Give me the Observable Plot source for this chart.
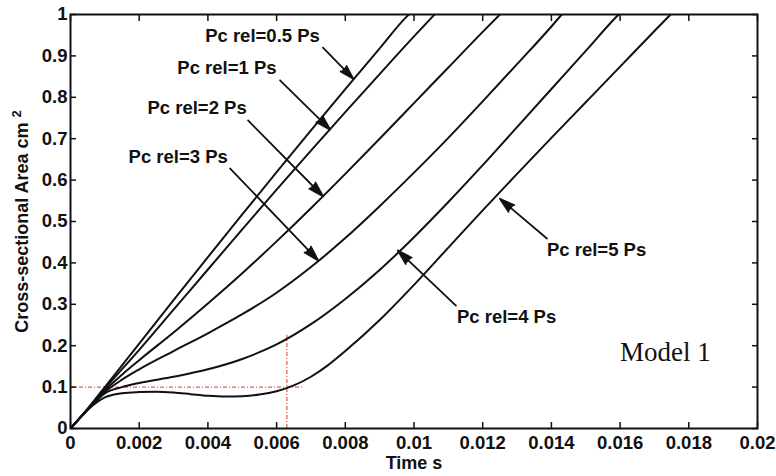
<!DOCTYPE html>
<html><head><meta charset="utf-8">
<script src="https://cdn.jsdelivr.net/npm/d3@7"></script>
<script src="https://cdn.jsdelivr.net/npm/@observablehq/plot@0.6"></script>
<style>html,body{margin:0;padding:0;background:#fff;}</style>
</head><body><div id="chart"></div>
<script>
// ---- data (time s, cross-sectional area cm^2) ----
const seriesNames = ["Pc rel=0.5 Ps", "Pc rel=1 Ps", "Pc rel=2 Ps", "Pc rel=3 Ps", "Pc rel=4 Ps", "Pc rel=5 Ps"];
const curve05 = [[0,0],[0.0005,0.048],[0.001,0.1],[0.002,0.205],[0.003,0.31],[0.004,0.414],[0.005,0.517],[0.006,0.619],[0.007,0.72],[0.008,0.82],[0.009,0.918],[0.0098,0.996],[0.00985,1.0]];
const curve1 = [[0,0],[0.0005,0.047],[0.001,0.096],[0.002,0.19],[0.003,0.287],[0.004,0.384],[0.005,0.481],[0.006,0.577],[0.007,0.671],[0.008,0.764],[0.009,0.856],[0.01,0.947],[0.0106,1.0]];
const curve2 = [[0,0],[0.0005,0.046],[0.001,0.092],[0.0015,0.13],[0.002,0.165],[0.003,0.232],[0.004,0.302],[0.005,0.375],[0.006,0.452],[0.007,0.532],[0.008,0.615],[0.009,0.7],[0.01,0.786],[0.011,0.872],[0.012,0.958],[0.0125,1.0]];
const curve3 = [[0,0],[0.0005,0.046],[0.001,0.088],[0.0015,0.118],[0.002,0.143],[0.003,0.187],[0.004,0.23],[0.005,0.276],[0.006,0.328],[0.007,0.39],[0.008,0.46],[0.009,0.537],[0.01,0.618],[0.011,0.702],[0.012,0.79],[0.013,0.88],[0.014,0.971],[0.0143,1.0]];
const curve4 = [[0,0],[0.0005,0.045],[0.001,0.085],[0.0015,0.1],[0.002,0.11],[0.003,0.125],[0.004,0.143],[0.005,0.168],[0.006,0.203],[0.007,0.252],[0.008,0.313],[0.009,0.383],[0.01,0.462],[0.011,0.547],[0.012,0.636],[0.013,0.728],[0.014,0.82],[0.015,0.912],[0.0159,0.995],[0.01596,1.0]];
const curve5 = [[0,0],[0.0005,0.045],[0.001,0.075],[0.0015,0.085],[0.002,0.088],[0.0025,0.089],[0.003,0.087],[0.0035,0.083],[0.004,0.079],[0.0045,0.077],[0.005,0.078],[0.0055,0.082],[0.006,0.09],[0.0065,0.104],[0.007,0.125],[0.0075,0.153],[0.008,0.187],[0.009,0.262],[0.01,0.347],[0.011,0.437],[0.012,0.527],[0.013,0.615],[0.014,0.702],[0.015,0.788],[0.016,0.874],[0.017,0.96],[0.01747,1.0]];
const curves = [curve05, curve1, curve2, curve3, curve4, curve5];

const xTicks = [0, 0.002, 0.004, 0.006, 0.008, 0.01, 0.012, 0.014, 0.016, 0.018, 0.02];
const yTicks = [0, 0.1, 0.2, 0.3, 0.4, 0.5, 0.6, 0.7, 0.8, 0.9, 1];

// red reference lines
const refLevel = 0.1, refLevelEnd = 0.0068;
const refTime = 0.0063, refTimeTop = 0.225;

// annotations
const labelX = [0.00392, 0.00311, 0.00224, 0.00169, 0.01125, 0.01387];
const labelY = [0.949, 0.870, 0.773, 0.655, 0.268, 0.43];
const arrowX1 = [0.00735, 0.0061, 0.00517, 0.00465, 0.01122, 0.01387];
const arrowY1 = [0.920, 0.841, 0.744, 0.628, 0.297, 0.459];
const arrowX2 = [0.00823, 0.00756, 0.00735, 0.00721, 0.00953, 0.0125];
const arrowY2 = [0.845, 0.722, 0.561, 0.406, 0.43, 0.555];
const noteText = "Model 1", noteX = 0.016, noteY = 0.184;
const xLabel = "Time s", yLabelMain = "Cross-sectional Area cm", yLabelSup = "2";

const lineRows = curves.flatMap((pts, i) => pts.map(([t, a]) => ({series: seriesNames[i], t, a})));
const labels = seriesNames.map((text, i) => ({text, x: labelX[i], y: labelY[i], x1: arrowX1[i], y1: arrowY1[i], x2: arrowX2[i], y2: arrowY2[i]}));

const font = '"Liberation Sans", Arial, Helvetica, sans-serif';
const ink = "#111";
const red = "#e8362c";

const chart = Plot.plot({
  width: 776, height: 476,
  marginLeft: 70, marginRight: 19, marginTop: 14, marginBottom: 48,
  x: {domain: [0, 0.02]},
  y: {domain: [0, 1]},
  style: {fontFamily: font, fontSize: "18.5px", fontWeight: "bold", color: ink, background: "white"},
  marks: [
    Plot.ruleY([refLevel], {x1: 0, x2: refLevelEnd, stroke: red, strokeWidth: 1, strokeDasharray: "4,2,1,2"}),
    Plot.ruleX([refTime], {y1: 0, y2: refTimeTop, stroke: red, strokeWidth: 1, strokeDasharray: "4,2,1,2"}),
    Plot.line(lineRows, {x: "t", y: "a", z: "series", stroke: ink, strokeWidth: 2, curve: "monotone-x", clip: true}),
    Plot.arrow(labels, {x1: "x1", y1: "y1", x2: "x2", y2: "y2", stroke: ink, fill: ink, strokeWidth: 1.8, headLength: 13, headAngle: 32}),
    Plot.text(labels, {x: "x", y: "y", text: "text", textAnchor: "start", lineAnchor: "middle", fontWeight: "bold", fill: ink}),
    Plot.text([noteText], {x: noteX, y: noteY, text: d => d, textAnchor: "start", lineAnchor: "middle", fontFamily: '"Liberation Serif", "Times New Roman", serif', fontSize: 27, fontWeight: "normal", fill: ink}),
    Plot.axisX({ticks: xTicks, tickSize: 0, tickPadding: 7, tickFormat: d => String(d), label: null}),
    Plot.axisX({ticks: xTicks, anchor: "bottom", tickSize: -6, strokeWidth: 1.5, tickFormat: () => "", label: null}),
    Plot.axisX({ticks: xTicks, anchor: "top", tickSize: -6, strokeWidth: 1.5, tickFormat: () => "", label: null}),
    Plot.axisY({ticks: yTicks, tickSize: 0, tickPadding: 3, tickFormat: d => String(d), label: null}),
    Plot.axisY({ticks: yTicks, anchor: "left", tickSize: -6, strokeWidth: 1.5, tickFormat: () => "", label: null}),
    Plot.axisY({ticks: yTicks, anchor: "right", tickSize: -6, strokeWidth: 1.5, tickFormat: () => "", label: null}),
    Plot.frame({stroke: ink, strokeWidth: 2}),
    Plot.text([xLabel], {frameAnchor: "bottom", dy: 35, text: d => d, textAnchor: "middle", lineAnchor: "middle", fontSize: 18, fill: ink}),
    Plot.text([yLabelMain], {frameAnchor: "left", dx: -48, rotate: -90, text: d => d, textAnchor: "middle", lineAnchor: "middle", fontSize: 18, fill: ink})
  ]
});
// superscript on the y-axis label
d3.select(chart).selectAll("text").filter(function() { return this.textContent === yLabelMain; })
  .each(function() {
    d3.select(this).append("tspan").attr("dx", "5").attr("dy", "-7").attr("font-size", "13").text(yLabelSup);
  });
document.getElementById("chart").appendChild(chart);
</script>
</body></html>
